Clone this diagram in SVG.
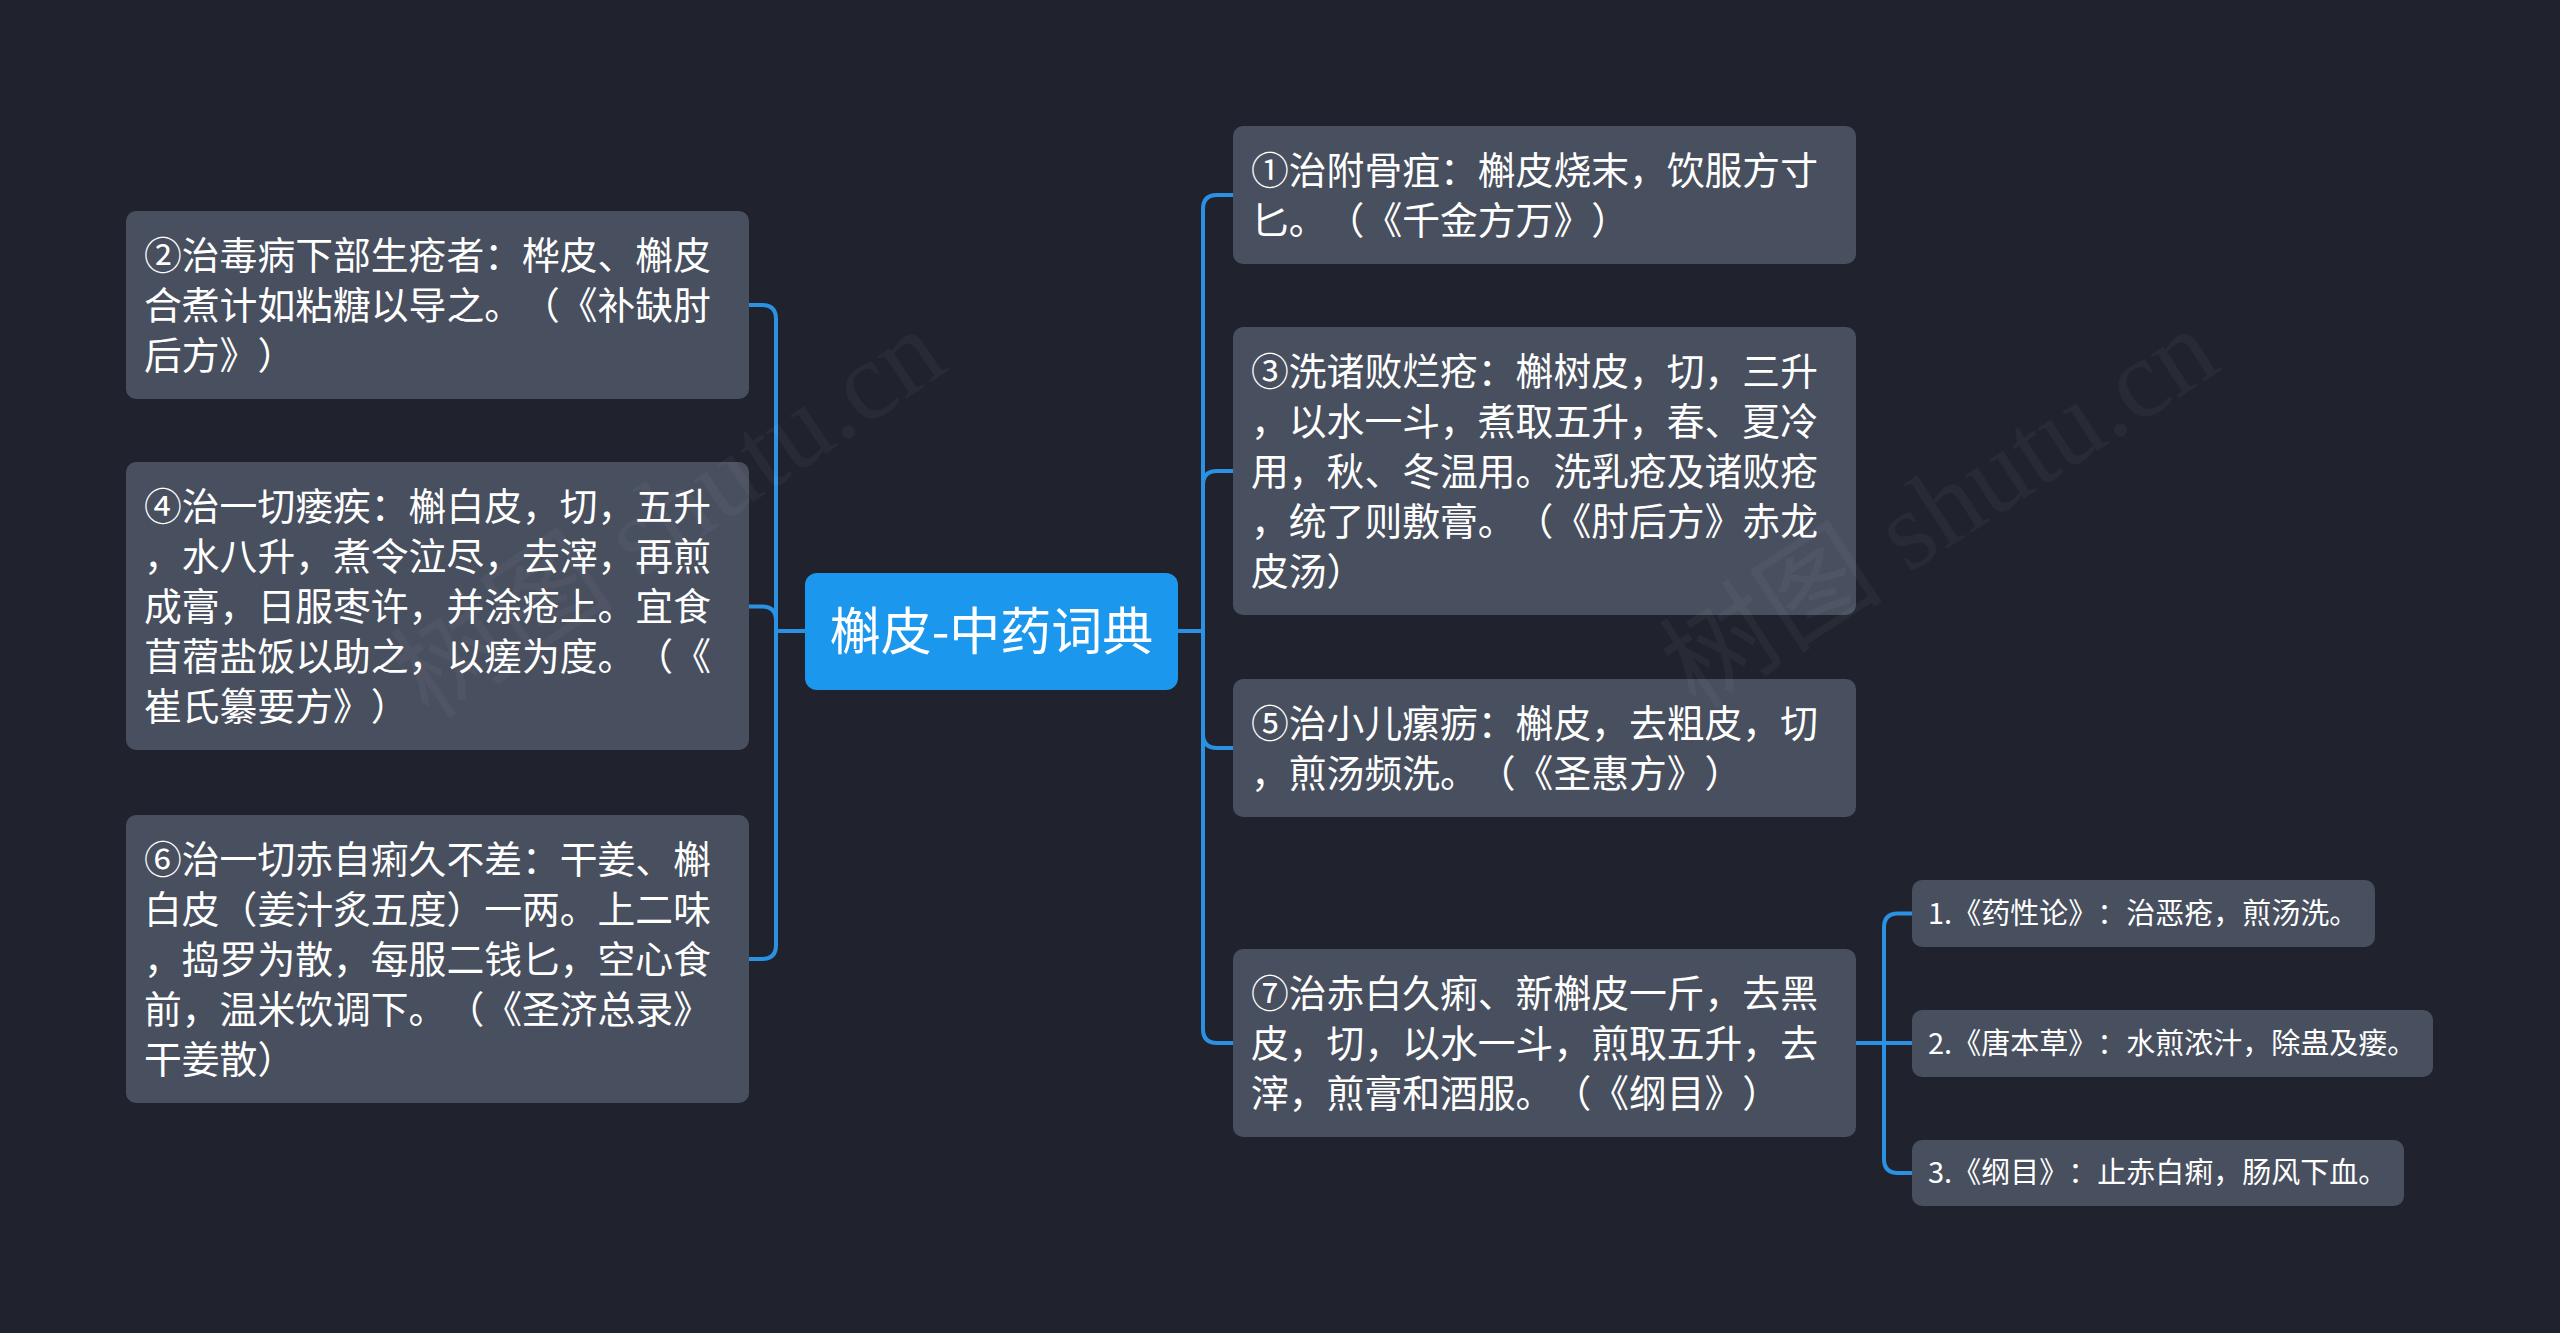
<svg xmlns="http://www.w3.org/2000/svg" width="2560" height="1333" viewBox="0 0 2560 1333">
<defs>
<style>
.bg{fill:#20232e}
.box{fill:#484f5e}
.root{fill:#1b97ee}
text{text-spacing-trim:space-all;font-feature-settings:"chws" 0,"halt" 0,"palt" 0;font-kerning:none}
.t{font-family:"Noto Sans CJK SC","Noto Sans",sans-serif;font-size:37.8px;fill:#ffffff}
.ts{font-family:"Noto Sans CJK SC","Noto Sans",sans-serif;font-size:29px;fill:#ffffff}
.tr{font-family:"Noto Sans CJK SC","Noto Sans",sans-serif;font-size:51px;fill:#ffffff;text-anchor:middle}
.c{fill:none;stroke:#2b91e3;stroke-width:4;stroke-linecap:round;stroke-linejoin:round}
.wm{font-family:"Liberation Serif","Noto Sans CJK SC",serif;font-size:112px;fill:#ffffff;fill-opacity:0.04;text-anchor:middle}
</style>
</defs>
<rect class="bg" x="0" y="0" width="2560" height="1333"/>

<g id="connectors">
<path class="c" d="M805 631 H776 V319 Q776 305 762 305 H749"/>
<path class="c" d="M805 631 H776 V620.5 Q776 606.5 762 606.5 H749"/>
<path class="c" d="M805 631 H776 V945 Q776 959 762 959 H749"/>
<path class="c" d="M1178 631 H1203 V209 Q1203 195 1217 195 H1233"/>
<path class="c" d="M1178 631 H1203 V485 Q1203 471 1217 471 H1233"/>
<path class="c" d="M1178 631 H1203 V734 Q1203 748 1217 748 H1233"/>
<path class="c" d="M1178 631 H1203 V1029 Q1203 1043 1217 1043 H1233"/>
<path class="c" d="M1856 1043 H1884 V927.5 Q1884 913.5 1898 913.5 H1912"/>
<path class="c" d="M1856 1043 H1912"/>
<path class="c" d="M1856 1043 H1884 V1159 Q1884 1173 1898 1173 H1912"/>
</g>

<g id="root">
<rect class="root" x="805" y="573" width="373" height="117" rx="12"/>
<text class="tr" x="991.5" y="650">槲皮-中药词典</text>
</g>

<g id="n2">
<rect class="box" x="126" y="211" width="623" height="188" rx="10"/>
<text class="t" x="144" y="269">②治毒病下部生疮者：桦皮、槲皮</text>
<text class="t" x="144" y="319">合煮计如粘糖以导之。（《补缺肘</text>
<text class="t" x="144" y="369">后方》）</text>
</g>

<g id="n4">
<rect class="box" x="126" y="462" width="623" height="288" rx="10"/>
<text class="t" x="144" y="520">④治一切瘘疾：槲白皮，切，五升</text>
<text class="t" x="144" y="570">，水八升，煮令泣尽，去滓，再煎</text>
<text class="t" x="144" y="620">成膏，日服枣许，并涂疮上。宜食</text>
<text class="t" x="144" y="670">苜蓿盐饭以助之，以瘥为度。（《</text>
<text class="t" x="144" y="720">崔氏纂要方》）</text>
</g>

<g id="n6">
<rect class="box" x="126" y="815" width="623" height="288" rx="10"/>
<text class="t" x="144" y="873">⑥治一切赤自痢久不差：干姜、槲</text>
<text class="t" x="144" y="923">白皮（姜汁炙五度）一两。上二味</text>
<text class="t" x="144" y="973">，捣罗为散，每服二钱匕，空心食</text>
<text class="t" x="144" y="1023">前，温米饮调下。（《圣济总录》</text>
<text class="t" x="144" y="1073">干姜散）</text>
</g>

<g id="n1">
<rect class="box" x="1233" y="126" width="623" height="138" rx="10"/>
<text class="t" x="1251" y="184">①治附骨疽：槲皮烧末，饮服方寸</text>
<text class="t" x="1251" y="234">匕。（《千金方万》）</text>
</g>

<g id="n3">
<rect class="box" x="1233" y="327" width="623" height="288" rx="10"/>
<text class="t" x="1251" y="385">③洗诸败烂疮：槲树皮，切，三升</text>
<text class="t" x="1251" y="435">，以水一斗，煮取五升，春、夏冷</text>
<text class="t" x="1251" y="485">用，秋、冬温用。洗乳疮及诸败疮</text>
<text class="t" x="1251" y="535">，统了则敷膏。（《肘后方》赤龙</text>
<text class="t" x="1251" y="585">皮汤）</text>
</g>

<g id="n5">
<rect class="box" x="1233" y="679" width="623" height="138" rx="10"/>
<text class="t" x="1251" y="737">⑤治小儿瘰疬：槲皮，去粗皮，切</text>
<text class="t" x="1251" y="787">，煎汤频洗。（《圣惠方》）</text>
</g>

<g id="n7">
<rect class="box" x="1233" y="949" width="623" height="188" rx="10"/>
<text class="t" x="1251" y="1007">⑦治赤白久痢、新槲皮一斤，去黑</text>
<text class="t" x="1251" y="1057">皮，切，以水一斗，煎取五升，去</text>
<text class="t" x="1251" y="1107">滓，煎膏和酒服。（《纲目》）</text>
</g>

<g id="s1">
<rect class="box" x="1912" y="880" width="463" height="67" rx="10"/>
<text class="ts" x="1928" y="924">1.《药性论》：治恶疮，煎汤洗。</text>
</g>

<g id="s2">
<rect class="box" x="1912" y="1010" width="521" height="67" rx="10"/>
<text class="ts" x="1928" y="1054">2.《唐本草》：水煎浓汁，除蛊及瘘。</text>
</g>

<g id="s3">
<rect class="box" x="1912" y="1140" width="492" height="66" rx="10"/>
<text class="ts" x="1928" y="1183">3.《纲目》：止赤白痢，肠风下血。</text>
</g>

<g id="watermark">
<text class="wm" transform="translate(690 545) rotate(-34)">树图 shutu.cn</text>
<text class="wm" transform="translate(1960 540) rotate(-33)">树图 shutu.cn</text>
</g>
</svg>
